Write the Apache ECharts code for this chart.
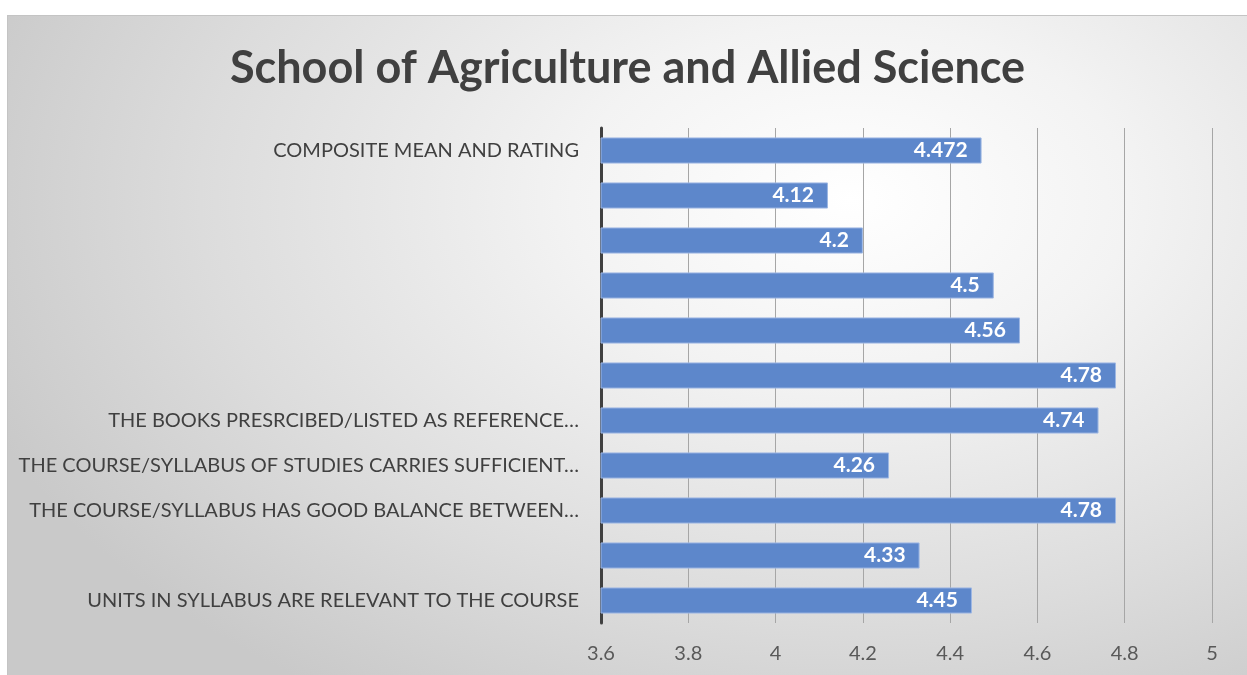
<!DOCTYPE html>
<html>
<head>
<meta charset="utf-8">
<script src="https://cdn.jsdelivr.net/npm/echarts@6/dist/echarts.min.js"></script>
<style>
  body { margin: 0; background: #ffffff; }
  #chart {
    position: absolute;
    left: 7px;
    top: 15px;
    width: 1239px;
    height: 659px;
    border: 1px solid #c4c4c4;
    background: radial-gradient(ellipse 75% 90% at 68% 28%, #ffffff 0%, #f3f3f3 30%, #dcdcdc 70%, #c9c9c9 100%);
  }
</style>
</head>
<body>
<div id="chart"></div>
<script>
// categories bottom -> top (category axis draws the first one at the bottom)
const categories = [
  'UNITS IN SYLLABUS ARE RELEVANT TO THE COURSE',
  '',
  'THE COURSE/SYLLABUS HAS GOOD BALANCE BETWEEN…',
  'THE COURSE/SYLLABUS OF STUDIES CARRIES SUFFICIENT…',
  'THE BOOKS PRESRCIBED/LISTED AS REFERENCE…',
  ' ',
  '  ',
  '   ',
  '    ',
  '     ',
  'COMPOSITE MEAN AND RATING'
];
const values = [4.45, 4.33, 4.78, 4.26, 4.74, 4.78, 4.56, 4.5, 4.2, 4.12, 4.472];
const xTicks = [3.6, 3.8, 4, 4.2, 4.4, 4.6, 4.8, 5];

const myChart = echarts.init(document.getElementById('chart'));

const option = {
  title: {
    text: 'School of Agriculture and Allied Science',
    left: 'center',
    top: 25,
    textStyle: {
      fontFamily: 'Lato',
      fontSize: 45,
      fontWeight: 'bold',
      color: '#404040'
    }
  },
  grid: {
    left: 593,
    right: 35,
    top: 112,
    bottom: 52
  },
  xAxis: {
    type: 'value',
    min: xTicks[0],
    max: xTicks[xTicks.length - 1],
    interval: 0.2,
    axisLine: { show: false },
    axisTick: { show: false },
    axisLabel: {
      color: '#595959',
      fontFamily: 'Lato',
      fontSize: 20,
      margin: 21,
      formatter: (v) => String(Math.round(v * 10) / 10)
    },
    splitLine: { show: true, lineStyle: { color: '#a6a6a6', width: 1 } }
  },
  yAxis: {
    type: 'category',
    data: categories,
    axisLine: { show: true, lineStyle: { color: '#404040', width: 3 } },
    axisTick: { show: false },
    axisLabel: {
      color: '#404040',
      fontFamily: 'Lato',
      fontSize: 20,
      margin: 22
    }
  },
  series: [
    {
      type: 'bar',
      data: values,
      barCategoryGap: '42%',
      itemStyle: {
        color: '#5d87cb',
        borderColor: '#9db7e3',
        borderWidth: 1
      },
      label: {
        show: true,
        position: 'insideRight',
        distance: 14,
        color: '#ffffff',
        fontFamily: 'Lato',
        fontSize: 21,
        fontWeight: 'bold',
        formatter: (p) => String(p.value)
      }
    }
  ]
};

myChart.setOption(option);
</script>
</body>
</html>
